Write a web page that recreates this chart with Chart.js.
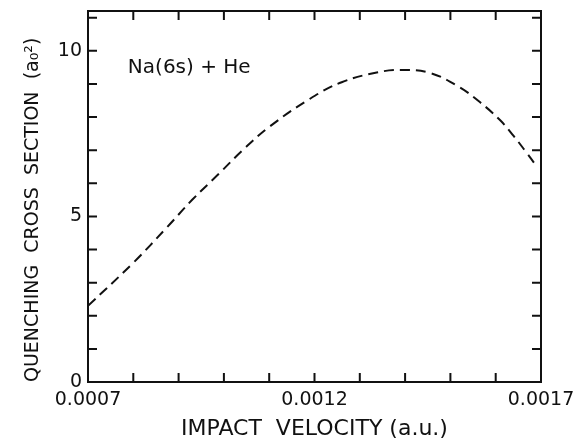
<!DOCTYPE html>
<html>
<head>
<meta charset="utf-8">
<script src="https://cdn.jsdelivr.net/npm/chart.js@4.4.0/dist/chart.umd.min.js"></script>
<style>
  html, body { margin: 0; padding: 0; background: #fff; }
  #wrap { width: 582px; height: 440px; position: relative; }
</style>
</head>
<body>
<div id="wrap"><canvas id="c" width="582" height="440"></canvas></div>
<script>
// ---- data ----
const velocity = [0.0007, 0.0008, 0.000875, 0.00093, 0.00099, 0.00104, 0.0011, 0.00119, 0.00126, 0.00134, 0.00139, 0.001455, 0.00152, 0.001565, 0.00161, 0.00164, 0.001665, 0.00169];
const crossSection = [2.3, 3.6, 4.68, 5.5, 6.3, 6.98, 7.7, 8.55, 9.05, 9.35, 9.42, 9.33, 8.9, 8.45, 7.9, 7.42, 6.98, 6.52];
const xTickValues = [0.0007, 0.0008, 0.0009, 0.0010, 0.0011, 0.0012, 0.0013, 0.0014, 0.0015, 0.0016, 0.0017];
const xTickLabels = ['0.0007', '', '', '', '', '0.0012', '', '', '', '', '0.0017'];
const yTickValues = [0, 1, 2, 3, 4, 5, 6, 7, 8, 9, 10, 11];
const yTickLabels = ['0', '', '', '', '', '5', '', '', '', '', '10', ''];
const annotationText = 'Na(6s) + He';
const annotationPos = { x: 0.000788, y: 9.49 };
const xTitle = 'IMPACT  VELOCITY (a.u.)';
const yTitle = 'QUENCHING  CROSS  SECTION  (a\u2080\u00B2)';

const INK = '#111';
const FONT = 'DejaVu Sans';

const framePlugin = {
  id: 'frame',
  afterDraw(chart) {
    const { ctx, chartArea: a, scales: { x, y } } = chart;
    const L = 9;
    ctx.save();
    ctx.strokeStyle = INK;
    ctx.lineWidth = 2;
    ctx.strokeRect(a.left, a.top, a.right - a.left, a.bottom - a.top);
    ctx.beginPath();
    x.ticks.forEach(t => {
      const px = x.getPixelForValue(t.value);
      ctx.moveTo(px, a.bottom); ctx.lineTo(px, a.bottom - L);
      ctx.moveTo(px, a.top); ctx.lineTo(px, a.top + L);
    });
    y.ticks.forEach(t => {
      const py = y.getPixelForValue(t.value);
      ctx.moveTo(a.left, py); ctx.lineTo(a.left + L, py);
      ctx.moveTo(a.right, py); ctx.lineTo(a.right - L, py);
    });
    ctx.stroke();
    // annotation
    ctx.fillStyle = INK;
    ctx.font = '20px "' + FONT + '"';
    ctx.textAlign = 'left';
    ctx.textBaseline = 'middle';
    ctx.fillText(annotationText, x.getPixelForValue(annotationPos.x), y.getPixelForValue(annotationPos.y));
    ctx.restore();
  }
};

new Chart(document.getElementById('c'), {
  type: 'scatter',
  data: {
    datasets: [{
      data: velocity.map((v, i) => ({ x: v, y: crossSection[i] })),
      showLine: true,
      borderColor: INK,
      borderWidth: 2,
      borderDash: [10, 6],
      pointRadius: 0,
      tension: 0.4,
      fill: false
    }]
  },
  options: {
    responsive: false,
    animation: false,
    events: [],
    layout: { padding: { left: 0, right: 41, top: 11, bottom: 0 } },
    plugins: { legend: { display: false }, tooltip: { enabled: false } },
    scales: {
      x: {
        type: 'linear',
        min: 0.0007,
        max: 0.0017,
        afterFit(s) { s.height = 58; s.paddingLeft = 0; s.paddingRight = 0; },
        afterBuildTicks(s) { s.ticks = xTickValues.map(v => ({ value: v })); },
        grid: { display: false, drawTicks: false },
        border: { display: false },
        ticks: {
          autoSkip: false,
          maxRotation: 0,
          padding: 7,
          color: INK,
          font: { family: FONT, size: 19 },
          callback: (v, i) => xTickLabels[i]
        },
        title: {
          display: true,
          text: xTitle,
          color: INK,
          font: { family: FONT, size: 22, lineHeight: 1 },
          padding: { top: 0, bottom: 0 }
        }
      },
      y: {
        type: 'linear',
        min: 0,
        max: 11.2,
        afterFit(s) { s.width = 88; s.paddingTop = 0; s.paddingBottom = 0; },
        afterBuildTicks(s) { s.ticks = yTickValues.map(v => ({ value: v })); },
        grid: { display: false, drawTicks: false },
        border: { display: false },
        ticks: {
          autoSkip: false,
          padding: 6,
          color: INK,
          font: { family: FONT, size: 19 },
          callback: (v, i) => yTickLabels[i]
        },
        title: {
          display: true,
          text: yTitle,
          align: 'start',
          color: INK,
          font: { family: FONT, size: 19, lineHeight: 1.2 },
          padding: { top: 22, bottom: 0 }
        }
      }
    }
  },
  plugins: [framePlugin]
});
</script>
</body>
</html>
